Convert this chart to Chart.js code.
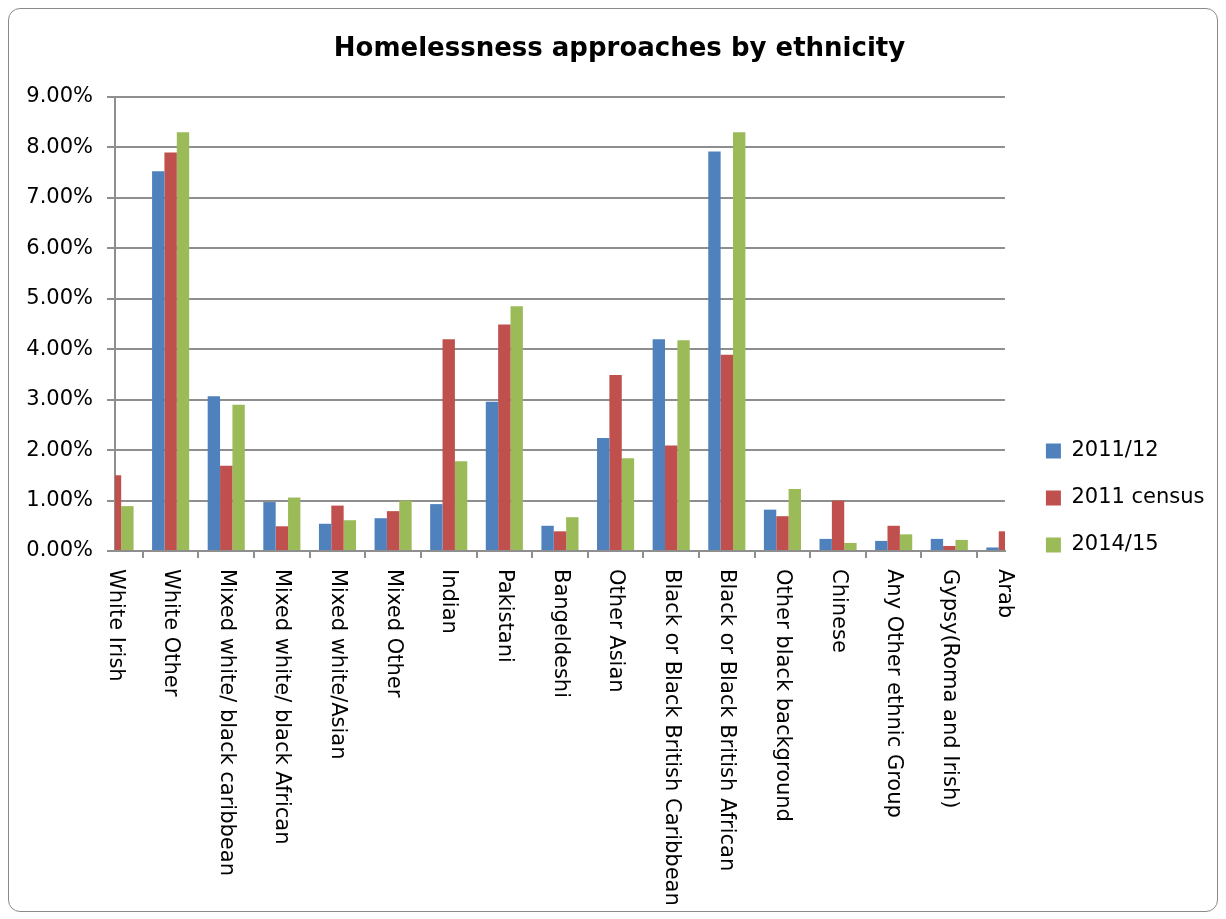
<!DOCTYPE html>
<html>
<head>
<meta charset="utf-8">
<script src="https://cdn.jsdelivr.net/npm/chart.js@4.4.0/dist/chart.umd.min.js"></script>
<style>
  html, body { margin: 0; padding: 0; background: #fff; }
  #box {
    position: absolute; left: 8px; top: 8px;
    width: 1208px; height: 902px;
    border: 1px solid #8a8a8a; border-radius: 12px;
    overflow: hidden;
  }
  canvas { display: block; }
</style>
</head>
<body>
<div id="box"><canvas id="barChart" width="1208" height="902"></canvas></div>
<script>
// data (percent)
const categories = [
    'White Irish', 'White Other', 'Mixed white/ black caribbean', 'Mixed white/ black African',
    'Mixed white/Asian', 'Mixed Other', 'Indian', 'Pakistani', 'Bangeldeshi', 'Other Asian',
    'Black or Black British Caribbean', 'Black or Black British African', 'Other black background',
    'Chinese', 'Any Other ethnic Group', 'Gypsy(Roma and Irish)', 'Arab'
];
const seriesNames = ['2011/12', '2011 census', '2014/15'];
const values2011_12 = [null, 7.53, 3.07, 0.97, 0.54, 0.65, 0.93, 2.96, 0.50, 2.24, 4.20, 7.92, 0.82, 0.24, 0.20, 0.24, 0.07];
const valuesCensus = [1.50, 7.90, 1.69, 0.49, 0.90, 0.79, 4.20, 4.49, 0.39, 3.49, 2.09, 3.89, 0.69, 1.00, 0.50, 0.10, 0.39];
const values2014_15 = [0.89, 8.30, 2.90, 1.06, 0.61, 1.00, 1.78, 4.85, 0.67, 1.84, 4.18, 8.30, 1.23, 0.16, 0.33, 0.22, null];
const yTicks = [0, 1, 2, 3, 4, 5, 6, 7, 8, 9];

const colors = ['#4F81BD', '#C0504D', '#9BBB59'];
const FONT = 'DejaVu Sans';
const gridGray = '#8e8e8e';

// draws the category labels rotated clockwise, reading top to bottom
const verticalLabels = {
    id: 'verticalLabels',
    afterDraw(chart) {
        const ctx = chart.ctx;
        const xs = chart.scales.x;
        ctx.save();
        ctx.font = '21px "' + FONT + '"';
        ctx.fillStyle = '#000';
        ctx.textAlign = 'left';
        ctx.textBaseline = 'middle';
        categories.forEach((label, i) => {
            const x = xs.getPixelForTick(i);
            ctx.save();
            ctx.translate(x, xs.top + 18);
            ctx.rotate(Math.PI / 2);
            ctx.fillText(label, 0, 0);
            ctx.restore();
        });
        ctx.restore();
    }
};

const ctx = document.getElementById('barChart').getContext('2d');
const barChart = new Chart(ctx, {
    type: 'bar',
    data: {
        labels: categories,
        datasets: [
            { label: seriesNames[0], data: values2011_12, backgroundColor: colors[0] },
            { label: seriesNames[1], data: valuesCensus, backgroundColor: colors[1] },
            { label: seriesNames[2], data: values2014_15, backgroundColor: colors[2] },
        ],
    },
    options: {
        responsive: false,
        animation: false,
        layout: { padding: { left: 15.5, right: 2.5, top: 0, bottom: 0 } },
        datasets: {
            bar: { categoryPercentage: 0.667, barPercentage: 1.0, clip: 0, borderWidth: 0 }
        },
        plugins: {
            title: {
                display: true,
                text: 'Homelessness approaches by ethnicity',
                color: '#000',
                font: { family: FONT, size: 26, weight: 'bold', lineHeight: 1.2 },
                padding: { top: 24.4, bottom: 32.4 },
            },
            legend: {
                position: 'right',
                title: { display: true, text: ' ', font: { size: 1, lineHeight: 1 }, padding: { top: 37.5, bottom: 37.5 } },
                labels: {
                    color: '#000',
                    font: { family: FONT, size: 21 },
                    boxWidth: 15,
                    boxHeight: 15,
                    padding: 26,
                },
            },
            tooltip: { enabled: false },
        },
        scales: {
            x: {
                offset: false,
                grid: { drawOnChartArea: false, drawTicks: true, tickLength: 7, color: gridGray, lineWidth: 2 },
                border: { display: true, color: gridGray, width: 2 },
                ticks: { display: false },
                afterFit: (scale) => { scale.height = 360; },
            },
            y: {
                min: 0,
                max: 9,
                afterBuildTicks: (scale) => { scale.ticks = yTicks.map(v => ({ value: v })); },
                ticks: {
                    color: '#000',
                    font: { family: FONT, size: 21 },
                    padding: 14,
                    callback: (v) => v.toFixed(2) + '%',
                },
                grid: { color: gridGray, lineWidth: 2, tickLength: 8 },
                border: { color: gridGray, width: 2 },
                afterFit: (scale) => { scale.width = 90.5; },
            },
            pad: {
                position: 'right',
                display: true,
                grid: { display: false },
                border: { display: false },
                ticks: { display: false },
                afterFit: (scale) => { scale.width = 15; },
            },
        },
    },
    plugins: [verticalLabels],
});
</script>
</body>
</html>
